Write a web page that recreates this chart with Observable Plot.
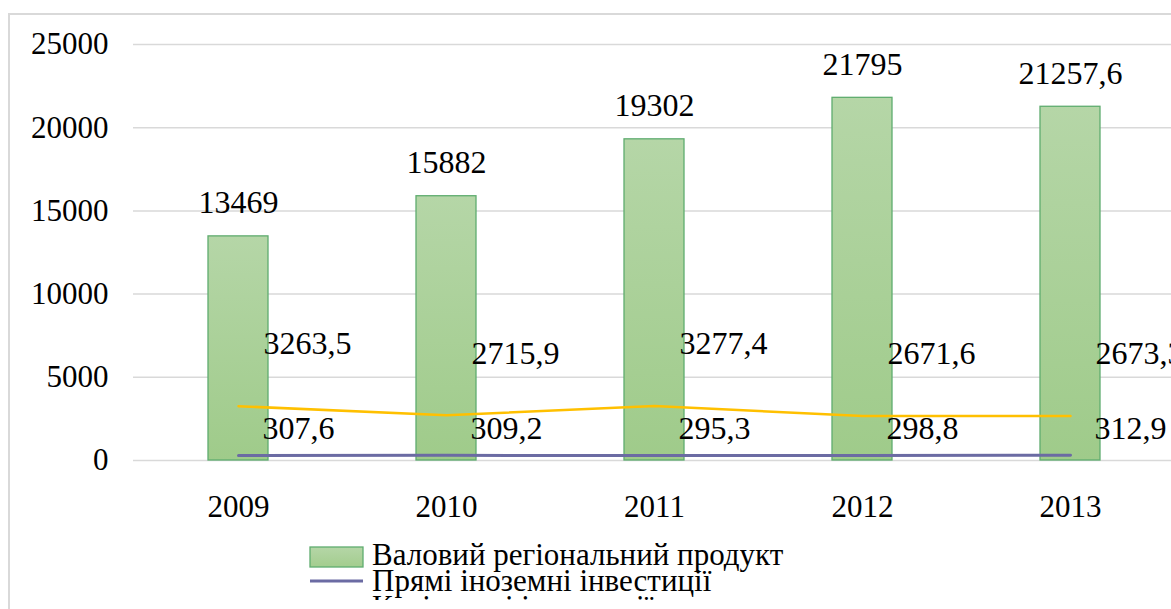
<!DOCTYPE html>
<html>
<head>
<meta charset="utf-8">
<script src="https://cdn.jsdelivr.net/npm/d3@7"></script>
<script src="https://cdn.jsdelivr.net/npm/@observablehq/plot@0.6"></script>
<style>
  html, body { margin: 0; padding: 0; background: #fff; overflow: hidden; width: 1171px; height: 609px; }
  #frame { position: absolute; left: 8px; top: 13px; width: 1300px; height: 700px;
           border-left: 2px solid #d9d9d9; border-top: 2px solid #d9d9d9; box-sizing: border-box; }
  #chart { position: absolute; left: 0; top: 0; }
  #legend { position: absolute; left: 0; top: 530px; height: 70px; overflow: hidden; }
</style>
</head>
<body>
<div id="frame"></div>
<div id="chart"></div>
<div id="legend"></div>
<script>
const years = ["2009", "2010", "2011", "2012", "2013"];
const grp = [13469, 15882, 19302, 21795, 21257.6];
const fdi = [307.6, 309.2, 295.3, 298.8, 312.9];
const capInv = [3263.5, 2715.9, 3277.4, 2671.6, 2673.3];
const yTicks = [0, 5000, 10000, 15000, 20000, 25000];
const seriesNames = ["Валовий регіональний продукт", "Прямі іноземні інвестиції", "Капітальні інвестиції"];

const FONT = "Liberation Serif";
const fmt = v => String(v).replace(".", ",");
const rows = (vals) => years.map((y, i) => ({year: y, value: vals[i]}));
const grpRows = rows(grp), fdiRows = rows(fdi), capRows = rows(capInv);

const svg = Plot.plot({
  width: 1175,
  height: 530,
  marginLeft: 133,
  marginRight: 0,
  marginTop: 44,
  marginBottom: 70,
  style: {background: "transparent", color: "#000"},
  x: {domain: years, paddingInner: 0.712, paddingOuter: 0.356, label: null},
  y: {domain: [0, 25000], label: null},
  marks: [
    Plot.gridY(yTicks, {stroke: "#d9d9d9", strokeOpacity: 1, strokeWidth: 1.5}),
    Plot.axisY(yTicks, {tickSize: 0, tickPadding: 25, tickFormat: d => String(d), fontSize: 31, fontFamily: FONT, fill: "#000", label: null}),
    Plot.axisX({tickSize: 0, tickPadding: 34, fontSize: 31, fontFamily: FONT, fill: "#000", label: null}),
    Plot.barY(grpRows, {x: "year", y: "value", fill: "url(#barGrad)", stroke: "#5fac6f", strokeWidth: 1.3}),
    Plot.line(capRows, {x: "year", y: "value", stroke: "#ffc000", strokeWidth: 2.5}),
    Plot.line(fdiRows, {x: "year", y: "value", stroke: "#6b6ba3", strokeWidth: 3}),
    Plot.text(grpRows, {x: "year", y: "value", text: d => fmt(d.value), lineAnchor: "bottom", dy: -23, fontSize: 32, fontFamily: FONT, fill: "#000"}),
    Plot.text(capRows, {x: "year", y: "value", text: d => fmt(d.value), textAnchor: "start", lineAnchor: "middle", dx: 25, dy: -62, fontSize: 32, fontFamily: FONT, fill: "#000"}),
    Plot.text(fdiRows, {x: "year", y: "value", text: d => fmt(d.value), textAnchor: "start", lineAnchor: "middle", dx: 24, dy: -27, fontSize: 32, fontFamily: FONT, fill: "#000"})
  ]
});
svg.style.maxWidth = "none";
svg.style.overflow = "visible";
svg.setAttribute("font-family", FONT);
d3.select(svg).insert("defs", ":first-child").html(
  '<linearGradient id="barGrad" x1="0" y1="0" x2="0" y2="1">' +
  '<stop offset="0" stop-color="#b5d6a7"/><stop offset="1" stop-color="#9fcb8a"/></linearGradient>' +
  '<linearGradient id="legGrad" x1="0" y1="0" x2="0" y2="1">' +
  '<stop offset="0" stop-color="#b5d6a7"/><stop offset="1" stop-color="#a3cd8e"/></linearGradient>'
);
document.getElementById("chart").appendChild(svg);

// legend (clipped at the bottom like the reference)
const leg = d3.select("#legend").append("svg").attr("width", 1171).attr("height", 90)
  .attr("font-family", FONT).attr("font-size", 31);
const colors = ["#6b6ba3", "#ffc000"];
const g0 = leg.append("g");
g0.append("rect").attr("x", 310).attr("y", 17).attr("width", 53).attr("height", 20)
  .attr("fill", "url(#legGrad)").attr("stroke", "#5fac6f").attr("stroke-width", 1.3);
g0.append("text").attr("x", 372).attr("y", 35).attr("fill", "#000").text(seriesNames[0]);
[1, 2].forEach((k, j) => {
  const g = leg.append("g");
  const base = 35 + 26 * k;
  g.append("line").attr("x1", 310).attr("x2", 363).attr("y1", base - 10).attr("y2", base - 10)
    .attr("stroke", colors[j]).attr("stroke-width", 3);
  g.append("text").attr("x", 372).attr("y", base).attr("fill", "#000").text(seriesNames[k]);
});
</script>
</body>
</html>
